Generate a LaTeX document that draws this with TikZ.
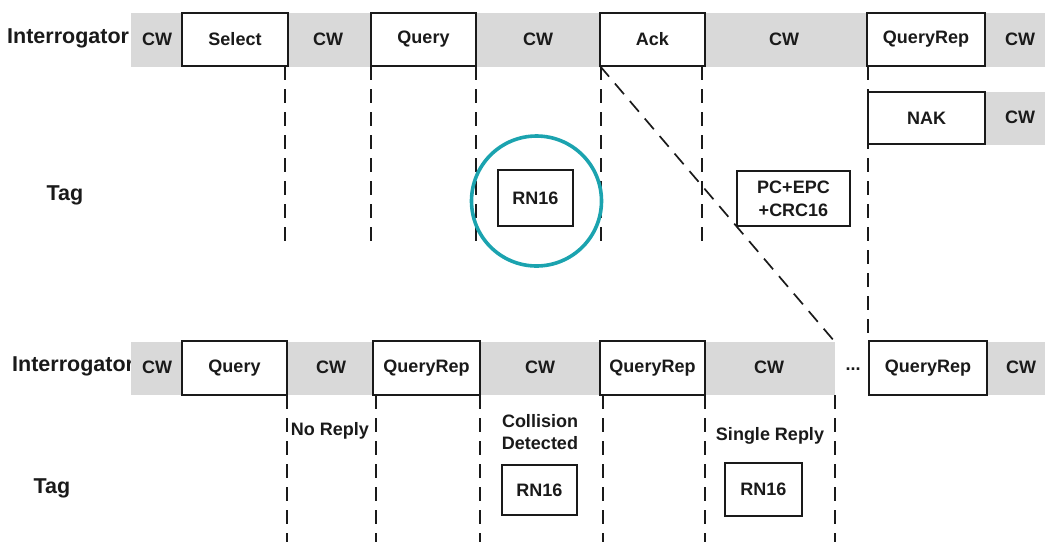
\documentclass[tikz,border=0pt]{standalone}
\usepackage{fontspec}
\setmainfont{Liberation Sans}
\pgfdeclarelayer{bg}
\pgfsetlayers{bg,main}
\definecolor{bandgray}{HTML}{D9D9D9}
\definecolor{ringteal}{HTML}{1BA3AF}
\definecolor{inkc}{HTML}{1A1A1A}
\tikzset{
  msg/.style={draw=inkc, line width=1.8pt, fill=white, inner sep=0pt, outer sep=0pt,
    text=inkc, font=\bfseries\fontsize{18}{20}\selectfont},
  cwtxt/.style={text=inkc, font=\bfseries\fontsize{18}{20}\selectfont, inner sep=0pt},
  note/.style={text=inkc, font=\bfseries\fontsize{18}{22}\selectfont, inner sep=0pt, align=center},
  rowlbl/.style={text=inkc, font=\bfseries\fontsize{21.5}{24}\selectfont, inner sep=0pt},
  guide/.style={draw=inkc, line width=1.7pt, dash pattern=on 14pt off 9pt},
}
\begin{document}
\begin{tikzpicture}[x=1pt, y=-1pt]
\useasboundingbox (0,0) rectangle (1045,542);

\begin{pgfonlayer}{bg}
% row labels (the bands are laid over their ends)
\node[rowlbl, anchor=west] (iTop) at (7,38) {Interrogator};
\node[rowlbl] (tagTop) at (65,195) {Tag};
\node[rowlbl, anchor=west] (iBot) at (12,366) {Interrogator};
\node[rowlbl] (tagBot) at (52,488) {Tag};
% carrier-wave bands
\fill[bandgray] (131,13) rectangle (1045,67);
\fill[bandgray] (985,92) rectangle (1045,145);
\fill[bandgray] (131,342) rectangle (835,395);
\fill[bandgray] (987,342) rectangle (1045,395);
\end{pgfonlayer}
\coordinate (bandEnd) at (835,342);

% first inventory round: interrogator commands
\node[msg, minimum width=106pt, minimum height=53pt] (select) at (235,39.5) {Select};
\node[msg, minimum width=105pt, minimum height=53pt] (queryT) at (423.5,39.5) {Query};
\node[msg, minimum width=105pt, minimum height=53pt] (ack) at (652.5,39.5) {Ack};
\node[msg, minimum width=118pt, minimum height=53pt] (qrepT) at (926,39.5) {QueryRep};
\node[msg, minimum width=117pt, minimum height=52pt] (nak) at (926.5,118) {NAK};

\node[cwtxt] (cw1) at (157,39) {CW};
\node[cwtxt] (cw2) at (328,39) {CW};
\node[cwtxt] (cw3) at (538,39) {CW};
\node[cwtxt] (cw4) at (784,39) {CW};
\node[cwtxt] (cw5) at (1020,39) {CW};
\node[cwtxt] (cw6) at (1020,117) {CW};

% first inventory round: tag replies
\node[msg, minimum width=75pt, minimum height=56pt] (rnT) at (535.5,198) {RN16};
\node[msg, minimum width=113pt, minimum height=55pt, align=center,
      font=\bfseries\fontsize{18}{23}\selectfont] (pcepc) at (793.5,198.5) {PC+EPC\\+CRC16};

% highlight ring
\draw[ringteal, line width=3.6pt] (536.5,201) circle (65);

% second round: interrogator commands
\node[msg, minimum width=105pt, minimum height=54pt] (queryB) at (234.5,368) {Query};
\node[msg, minimum width=107pt, minimum height=54pt] (qrepA) at (426.5,368) {QueryRep};
\node[msg, minimum width=105pt, minimum height=54pt] (qrepB) at (652.5,368) {QueryRep};
\node[msg, minimum width=118pt, minimum height=54pt] (qrepC) at (928,368) {QueryRep};

\node[cwtxt] (cw7) at (157,367) {CW};
\node[cwtxt] (cw8) at (331,367) {CW};
\node[cwtxt] (cw9) at (540,367) {CW};
\node[cwtxt] (cw10) at (769,367) {CW};
\node[cwtxt] (cw11) at (1021,367) {CW};
\node[cwtxt] (dots) at (853,369) {...};

% second round: tag replies and annotations
\node[note] (noreply) at (330,431) {No Reply};
\node[note] (collision) at (540,432) {Collision\\Detected};
\node[note] (single) at (770,436) {Single Reply};
\node[msg, minimum width=75pt, minimum height=50pt] (rnB1) at (539.5,490) {RN16};
\node[msg, minimum width=77pt, minimum height=53pt] (rnB2) at (763.5,489.5) {RN16};

% slot boundaries
\coordinate (topEnd) at (0,243);
\coordinate (botEnd) at (0,542);
\begin{pgfonlayer}{bg}
\draw[guide] ([xshift=-3pt]select.south east) -- ([xshift=-3pt]select.south east |- topEnd);
\draw[guide] (queryT.south west) -- (queryT.south west |- topEnd);
\draw[guide] (queryT.south east) -- (queryT.south east |- topEnd);
\draw[guide] ([xshift=1pt]ack.south west) -- ([xshift=1pt]ack.south west |- topEnd);
\draw[guide] ([xshift=-3pt]ack.south east) -- ([xshift=-3pt]ack.south east |- topEnd);
\draw[guide] ([xshift=1pt]qrepT.south west) -- ([xshift=1pt]qrepT.south west |- qrepC.north);
\draw[guide] (ack.south west) -- (bandEnd);

\draw[guide] (queryB.south east) -- (queryB.south east |- botEnd);
\draw[guide] ([xshift=3pt]qrepA.south west) -- ([xshift=3pt]qrepA.south west |- botEnd);
\draw[guide] (qrepA.south east) -- (qrepA.south east |- botEnd);
\draw[guide] ([xshift=3pt]qrepB.south west) -- ([xshift=3pt]qrepB.south west |- botEnd);
\draw[guide] (qrepB.south east) -- (qrepB.south east |- botEnd);
\draw[guide] ([yshift=-53pt]bandEnd) -- (bandEnd |- botEnd);
\end{pgfonlayer}
\end{tikzpicture}
\end{document}
